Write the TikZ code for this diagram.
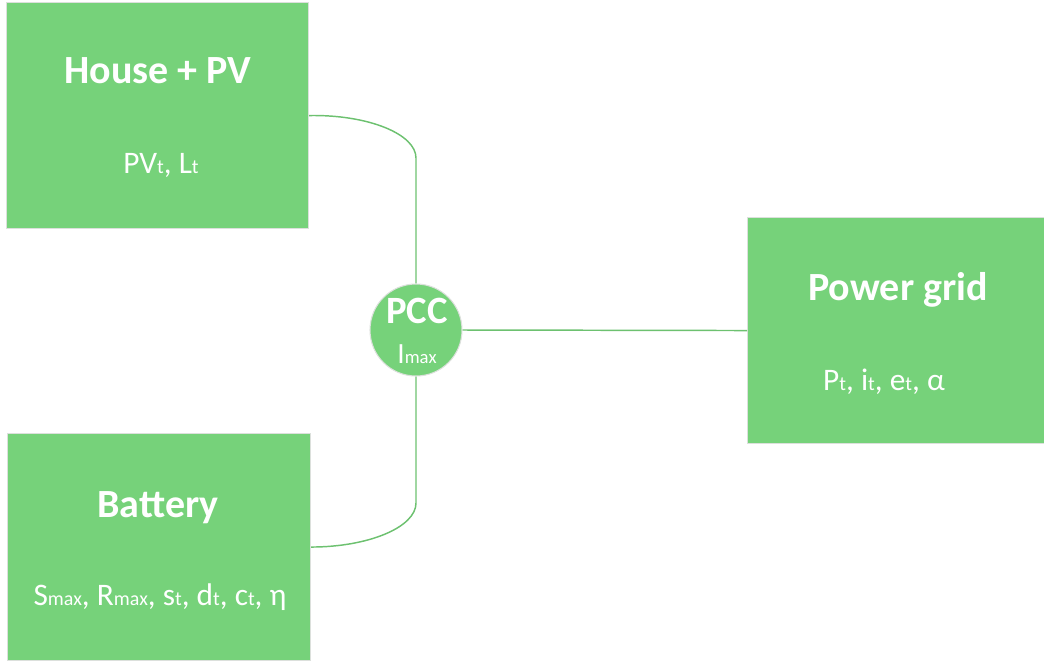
\documentclass[tikz,border=0pt]{standalone}
\usepackage{fontspec}
\setmainfont{Carlito}
\definecolor{boxgreen}{RGB}{118,210,122}
\definecolor{edgegray}{RGB}{220,224,220}
\newcommand\sbs[2]{{\fontsize{#1}{#1}\selectfont #2}}
\begin{document}
\begin{tikzpicture}[x=0.75pt,y=-0.75pt,
  blk/.style={draw=edgegray,line width=0.8pt,fill=boxgreen,inner sep=0pt,anchor=north west},
  ttl/.style={text=white,anchor=base,font=\bfseries\fontsize{30pt}{30pt}\selectfont,inner sep=0pt},
  sbt/.style={text=white,anchor=base,font=\fontsize{23.5pt}{23.5pt}\selectfont,inner sep=0pt},
  wire/.style={draw=boxgreen!92!black,line width=1.1pt}]
\useasboundingbox (0,0) rectangle (1044,664);
% blocks
\node[blk,minimum width=302*0.75pt,minimum height=226*0.75pt] (house) at (6,2) {};
\node[blk,minimum width=303*0.75pt,minimum height=227*0.75pt] (batt) at (7,433) {};
\node[blk,minimum width=297*0.75pt,minimum height=226*0.75pt] (grid) at (747,217) {};
\node[draw=edgegray,line width=0.8pt,fill=boxgreen,circle,minimum size=92*0.75pt,inner sep=0pt] (pcc) at (416,330) {};
% texts
\node[ttl] (houseT) at (158,83) {House + PV};
\node[sbt] (houseS) at (161,173) {PV\sbs{15pt}{t}, L\sbs{15pt}{t}};
\node[ttl] (battT) at (158,517) {Battery};
\node[sbt] (battS) at (160,605) {S\sbs{15pt}{max}, R\sbs{15pt}{max}, s\sbs{15pt}{t}, d\sbs{15pt}{t}, c\sbs{15pt}{t}, η};
\node[ttl] (gridT) at (898,300) {Power grid};
\node[sbt] (gridS) at (884,390) {P\sbs{15pt}{t}, i\sbs{15pt}{t}, e\sbs{15pt}{t}, α};
\node[ttl,font=\bfseries\fontsize{29pt}{29pt}\selectfont] (pccT) at (417,323) {PCC};
\node[sbt,font=\fontsize{22pt}{22pt}\selectfont] (pccS) at (417,363) {I\sbs{14pt}{max}};
% wires
\draw[wire] (house.east) .. controls (368,114.5) and (416,134) .. (416,158) -- (pcc.north);
\draw[wire] (pcc.south) -- (416,503) .. controls (416,527) and (369,547) .. (batt.east);
\draw[wire] (pcc.east) -- (grid.west);
\end{tikzpicture}
\end{document}
